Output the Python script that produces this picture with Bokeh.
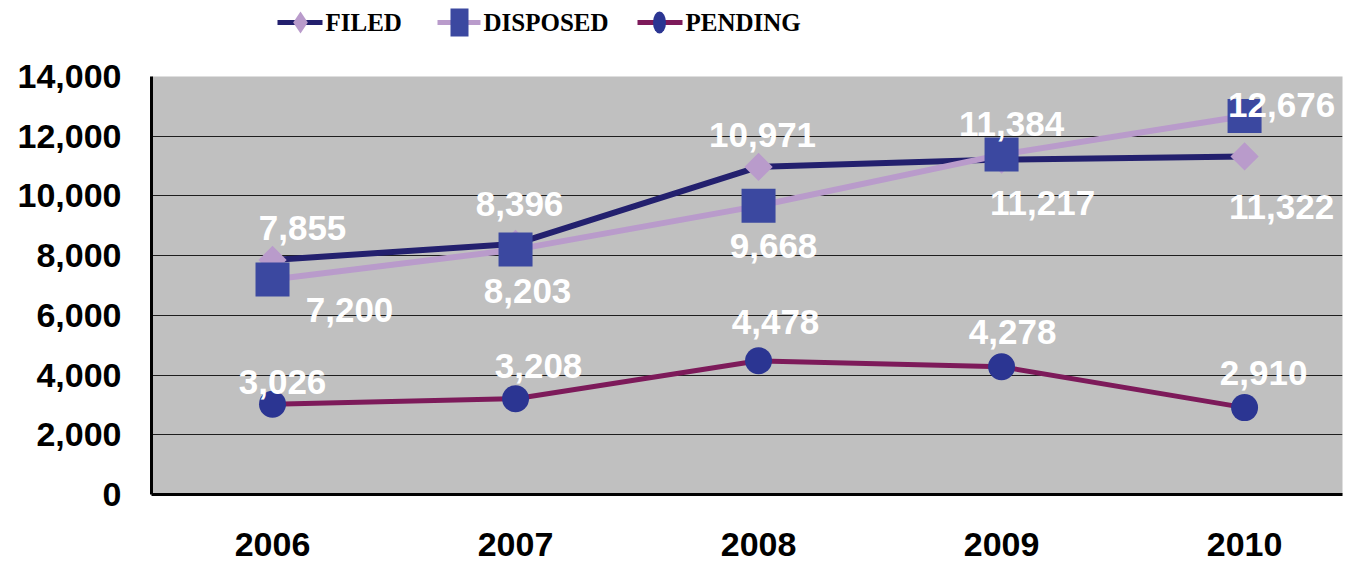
import math
from bokeh.plotting import figure
from bokeh.models import ColumnDataSource, Range1d, FixedTicker, NumeralTickFormatter
from bokeh.layouts import column
from bokeh.embed import file_html
from bokeh.resources import INLINE
from bokeh.core.properties import value

# ---------------- data ----------------
years = [2006, 2007, 2008, 2009, 2010]
filed = [7855, 8396, 10971, 11217, 11322]
disposed = [7200, 8203, 9668, 11384, 12676]
pending = [3026, 3208, 4478, 4278, 2910]
y_ticks = [0, 2000, 4000, 6000, 8000, 10000, 12000, 14000]
series_names = ["FILED", "DISPOSED", "PENDING"]

# ---------------- label placement (screen px offsets) ----------------
filed_dx = [30, 4, 4, 41, 37]
filed_dy = [-32, -40, -32, 43, 51]
disposed_dx = [77, 12, 15, 10, 37]
disposed_dy = [30, 41, 40, -31, -11]
pending_dx = [10, 23, 17, 11, 19]
pending_dy = [-22, -33, -39, -35, -35]

# ---------------- styles ----------------
BG = "#DFD8E8"
PLOT_BG = "#C0C0C0"
FILED_LINE = "#23206E"
FILED_MARK = "#B99BCB"
DISP_LINE = "#B99BCB"
DISP_MARK = "#3B48A0"
PEND_LINE = "#7D1A5A"
PEND_MARK = "#2B3592"
SANS = "Liberation Sans"
SERIF = "Liberation Serif"

W = 1350
LEG_H = 50
MAIN_H = 561 - LEG_H
FRAME_L = 151
FRAME_R = 1342

# ---------------- legend strip ----------------
leg = figure(width=W, height=LEG_H, x_range=Range1d(FRAME_L, FRAME_R), y_range=Range1d(0, LEG_H),
             output_backend="svg", toolbar_location=None,
             x_axis_location=None, y_axis_location=None,
             min_border_left=FRAME_L, min_border_right=W - FRAME_R,
             min_border_top=0, min_border_bottom=0)
leg.grid.visible = False
leg.outline_line_color = None
leg.background_fill_alpha = 0
leg.border_fill_alpha = 0
ly = 28
leg.segment(x0=[277], y0=[ly], x1=[322], y1=[ly], line_color=FILED_LINE, line_width=5)
leg.scatter(x=[300], y=[ly], marker="diamond", size=22, fill_color=FILED_MARK, line_color=None)
leg.segment(x0=[437], y0=[ly], x1=[480], y1=[ly], line_color=DISP_LINE, line_width=5)
leg.rect(x=[459], y=[ly], width=18, height=28, fill_color=DISP_MARK, line_color=None)
leg.segment(x0=[637], y0=[ly], x1=[682], y1=[ly], line_color=PEND_LINE, line_width=5)
leg.ellipse(x=[659], y=[ly], width=13, height=22, fill_color=PEND_MARK, line_color=None)
leg.text(x=[325, 483, 685], y=[ly, ly, ly], text=series_names,
         text_font=value(SERIF), text_font_style="bold", text_font_size="25px",
         text_color="black", text_align="left", text_baseline="middle")

# ---------------- main chart ----------------
p = figure(width=W, height=MAIN_H,
           x_range=Range1d(2005.502, 2010.403), y_range=Range1d(0, 14000),
           output_backend="svg", toolbar_location=None,
           min_border_left=FRAME_L, min_border_right=W - FRAME_R,
           min_border_top=26, min_border_bottom=67)
p.background_fill_color = PLOT_BG
p.border_fill_alpha = 0
p.outline_line_color = None
p.xgrid.visible = False
p.ygrid.ticker = FixedTicker(ticks=y_ticks)
p.ygrid.grid_line_color = "#1E1E1E"
p.ygrid.grid_line_width = 1

p.xaxis.ticker = FixedTicker(ticks=years)
p.yaxis.ticker = FixedTicker(ticks=y_ticks)
p.yaxis.formatter = NumeralTickFormatter(format="0,0")
for ax in (p.xaxis, p.yaxis):
    ax.major_tick_line_color = None
    ax.minor_tick_line_color = None
    ax.major_tick_out = 0
    ax.major_tick_in = 0
    ax.axis_line_color = "black"
    ax.axis_line_width = 3
    ax.major_label_text_font = SANS
    ax.major_label_text_font_style = "bold"
    ax.major_label_text_color = "black"
p.xaxis.major_label_text_font_size = "34px"
p.xaxis.major_label_standoff = 38
p.yaxis.major_label_text_font_size = "34px"
p.yaxis.major_label_standoff = 30

# lines and markers
p.line(years, filed, line_color=FILED_LINE, line_width=6)
p.scatter(years, filed, marker="square", angle=math.pi / 4, size=20,
          fill_color=FILED_MARK, line_color=None)
p.line(years, disposed, line_color=DISP_LINE, line_width=6)
p.scatter(years, disposed, marker="square", size=34, fill_color=DISP_MARK, line_color=None)
p.line(years, pending, line_color=PEND_LINE, line_width=5)
p.scatter(years, pending, marker="circle", size=27, fill_color=PEND_MARK, line_color=None)

# data labels
lx, lyv, lt, ldx, ldy = [], [], [], [], []
for vals, dxs, dys in ((filed, filed_dx, filed_dy),
                       (disposed, disposed_dx, disposed_dy),
                       (pending, pending_dx, pending_dy)):
    for yr, v, dx, dy in zip(years, vals, dxs, dys):
        lx.append(yr)
        lyv.append(v)
        lt.append(f"{v:,}")
        ldx.append(dx)
        ldy.append(dy)
lab_src = ColumnDataSource(dict(x=lx, y=lyv, t=lt, dx=ldx, dy=ldy))
p.text(x="x", y="y", text="t", x_offset="dx", y_offset="dy", source=lab_src,
       text_color="white", text_font=value(SANS), text_font_style="bold",
       text_font_size="35px", text_align="center", text_baseline="middle")

layout = column(leg, p, spacing=0)
html = file_html(layout, INLINE, title="Filed, Disposed, Pending")
html = html.replace("<body>", '<body style="margin:0;background:%s;">' % BG, 1)
open("out.html", "w").write(html)
